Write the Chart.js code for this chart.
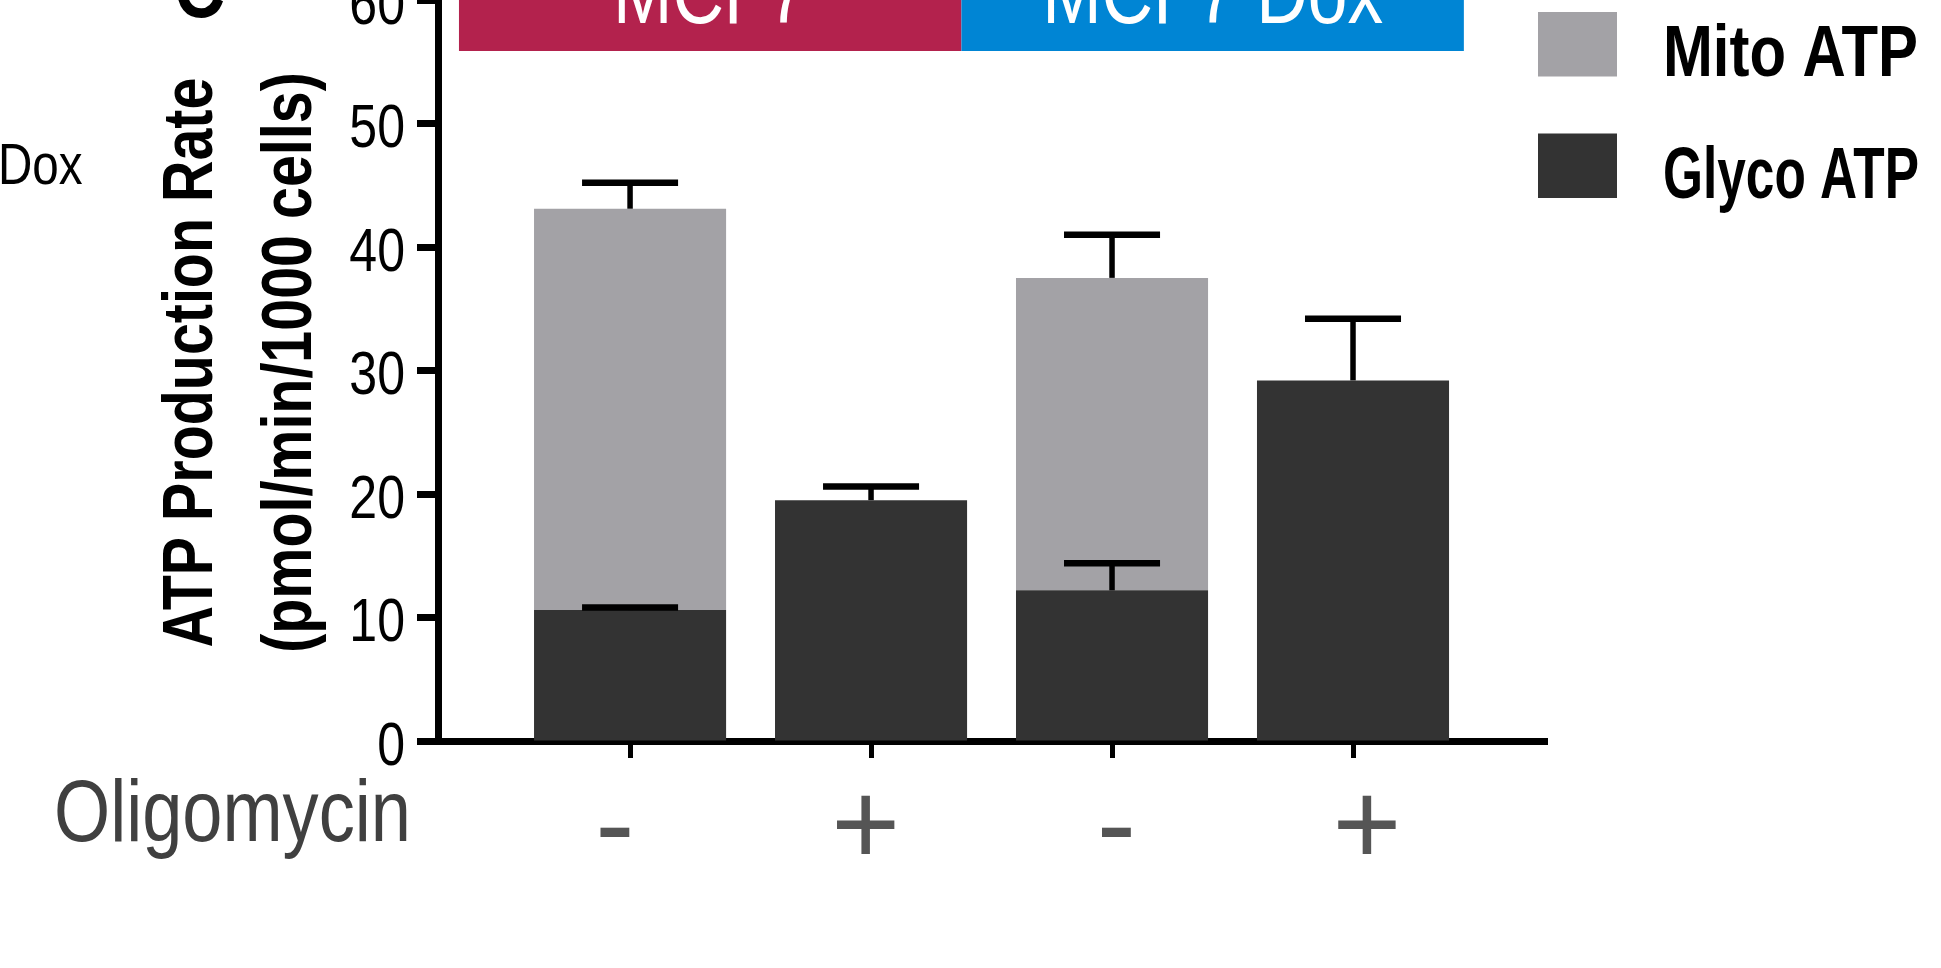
<!DOCTYPE html>
<html>
<head>
<meta charset="utf-8">
<script src="https://cdn.jsdelivr.net/npm/chart.js@4.4.1/dist/chart.umd.min.js"></script>
<style>
  html, body { margin: 0; padding: 0; background: #fff; }
  canvas { display: block; }
</style>
</head>
<body>
<canvas id="atpChart" width="1941" height="968"></canvas>
<script>
// chart data
const positions = [1, 2, 3, 4];
const oligomycin = ['-', '+', '-', '+'];
const cellLines = ['MCF7', 'MCF7 Dox'];
const glycoAtp = [10.6, 19.5, 12.2, 29.2];
const glycoErr = [0.2, 1.1, 2.2, 5.0];
const mitoAtp = [32.5, null, 25.3, null];
const mitoErr = [2.1, null, 3.5, null];
const yTicks = [0, 10, 20, 30, 40, 50, 60];

const SANS = '"Liberation Sans", sans-serif';

// no condensed font installed: squeeze Liberation Sans text sideways
const canvas = document.getElementById('atpChart');
const ctx2d = canvas.getContext('2d');
const plainFillText = ctx2d.fillText;
ctx2d.fillText = function (text, x, y, maxWidth) {
    if (this.font.indexOf('Liberation Sans') !== -1 && !oligomycin.includes(text)) {
        const w = this.measureText(text).width * 0.82;
        maxWidth = maxWidth === undefined ? w : Math.min(maxWidth, w);
    }
    if (maxWidth === undefined) return plainFillText.call(this, text, x, y);
    return plainFillText.call(this, text, x, y, maxWidth);
};

function toPoints(values) {
    return positions.map((p, i) => ({ x: p, y: values[i] }));
}

function setTicks(scale) {
    scale.ticks = positions.map(v => ({ value: v }));
}

// error bars, only the upper half
const errorBars = {
    id: 'errorBars',
    afterDatasetsDraw(chart) {
        const ctx = chart.ctx;
        const yScale = chart.scales.y;
        chart.data.datasets.forEach((ds, di) => {
            const meta = chart.getDatasetMeta(di);
            meta.data.forEach((bar, i) => {
                const err = ds.errors[i];
                if (err == null || ds.data[i].y == null) return;
                const topValue = yScale.getValueForPixel(bar.y);
                const yErr = yScale.getPixelForValue(topValue + err);
                const half = bar.width * 0.25;
                ctx.save();
                ctx.strokeStyle = '#000';
                ctx.lineWidth = 5.5;
                ctx.beginPath();
                ctx.moveTo(bar.x, bar.y);
                ctx.lineTo(bar.x, yErr);
                ctx.stroke();
                ctx.lineWidth = 6.5;
                ctx.beginPath();
                ctx.moveTo(bar.x - half, yErr);
                ctx.lineTo(bar.x + half, yErr);
                ctx.stroke();
                ctx.restore();
            });
        });
    }
};

// cell line boxes, legend and loose labels
const decorations = {
    id: 'decorations',
    afterDraw(chart) {
        const ctx = chart.ctx;
        const x = chart.scales.x;
        const edges = [x.getPixelForValue(0.29), x.getPixelForValue(2.375), x.getPixelForValue(4.46)];
        const boxColors = ['#B3224D', '#0085D4'];
        ctx.save();
        ctx.textBaseline = 'alphabetic';
        cellLines.forEach((name, i) => {
            ctx.fillStyle = boxColors[i];
            ctx.fillRect(edges[i], 0, edges[i + 1] - edges[i], 51);
            ctx.fillStyle = '#fff';
            ctx.font = '87px ' + SANS;
            ctx.textAlign = 'center';
            ctx.fillText(name, (edges[i] + edges[i + 1]) / 2, 23);
        });

        // legend, top entry is the upper segment
        const items = chart.data.datasets.slice().reverse();
        items.forEach((ds, i) => {
            const top = 12 + i * 121.5;
            ctx.fillStyle = ds.backgroundColor;
            ctx.fillRect(1538, top, 79, 64.5);
            ctx.fillStyle = '#000';
            ctx.font = 'bold 73px ' + SANS;
            ctx.textAlign = 'left';
            ctx.fillText(ds.label, 1663, top + 64, 256);
        });

        ctx.fillStyle = '#404040';
        ctx.font = '88px ' + SANS;
        ctx.textAlign = 'left';
        ctx.fillText('Oligomycin', 54, 841);

        ctx.fillStyle = '#000';
        ctx.font = '58px ' + SANS;
        ctx.fillText('Dox', -2, 184);
        ctx.font = 'bold 86px ' + SANS;
        ctx.fillText('C', 174, 17);
        ctx.restore();
    }
};

const chart = new Chart(canvas, {
    type: 'bar',
    data: {
        datasets: [
            { label: 'Glyco ATP', data: toPoints(glycoAtp), errors: glycoErr, backgroundColor: '#333333' },
            { label: 'Mito ATP', data: toPoints(mitoAtp), errors: mitoErr, backgroundColor: '#A3A2A6' }
        ]
    },
    options: {
        responsive: false,
        animation: false,
        events: [],
        layout: { padding: { left: 0, top: 0, right: 394, bottom: 0 } },
        datasets: { bar: { categoryPercentage: 1, barPercentage: 0.797 } },
        plugins: { legend: { display: false }, tooltip: { enabled: false } },
        scales: {
            x: {
                type: 'linear', stacked: true, offset: false, min: 0.203, max: 4.805, z: 1,
                afterBuildTicks: setTicks,
                afterFit(s) { s.height = 20; s.paddingLeft = 0; s.paddingRight = 0; },
                grid: { offset: false, drawOnChartArea: false, drawTicks: true, tickLength: 17, tickWidth: 5, tickColor: '#000' },
                border: { display: true, width: 7, color: '#000' },
                ticks: { display: false }
            },
            x2: {
                type: 'linear', position: 'bottom', offset: false, min: 0.294, max: 4.718,
                afterBuildTicks: setTicks,
                afterFit(s) { s.height = 207; s.paddingLeft = 0; s.paddingRight = 0; },
                grid: { display: false, offset: false, drawTicks: false },
                border: { display: false },
                ticks: {
                    autoSkip: false, maxRotation: 0, padding: 0, color: '#555555',
                    font: { family: SANS, size: 118 },
                    callback: v => oligomycin[positions.indexOf(v)]
                }
            },
            y: {
                stacked: true, min: 0, max: 60, z: 1,
                afterBuildTicks(s) { s.ticks = yTicks.map(v => ({ value: v })); },
                afterFit(s) { s.width = 438; s.paddingTop = 0; s.paddingBottom = 0; },
                grid: { drawOnChartArea: false, drawTicks: true, tickLength: 21, tickWidth: 7, tickColor: '#000' },
                border: { display: true, width: 7, color: '#000' },
                ticks: {
                    padding: 12, labelOffset: 7, color: '#000',
                    font: { family: SANS, size: 61 }
                },
                title: {
                    display: true,
                    text: [' ATP Production Rate', ' (pmol/min/1000 cells)'],
                    color: '#000',
                    padding: { top: 143, bottom: 0 },
                    font: { family: SANS, size: 70, weight: 'bold', lineHeight: 1.414 }
                }
            }
        }
    },
    plugins: [errorBars, decorations]
});
</script>
</body>
</html>
